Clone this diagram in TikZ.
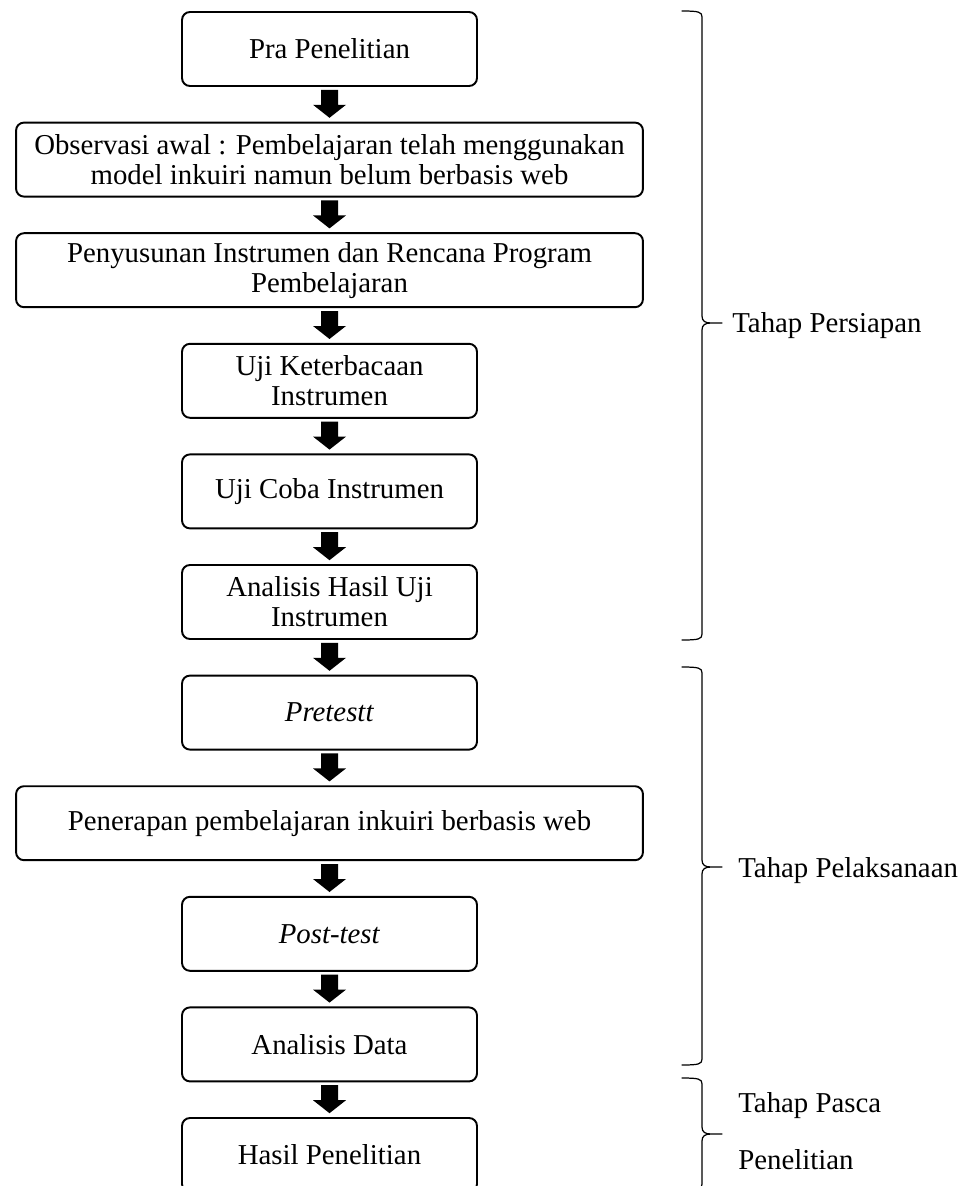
\documentclass[tikz,border=0pt]{standalone}
\usepackage{fontspec}
\setmainfont{Liberation Serif}
\usepackage{tikz}
\usetikzlibrary{calc}

% right brace: top y, tip y, bottom y
\newcommand{\kurawal}[3]{%
\draw[kurung] (682,#1) .. controls (699,#1) and (702,#1+1) .. (702,#1+6)
  -- (702,#2-7) .. controls (702,#2-2) and (705,#2) .. (711,#2) -- (722,#2)
  (711,#2) .. controls (705,#2) and (702,#2+2) .. (702,#2+7)
  -- (702,#3-6) .. controls (702,#3-1) and (699,#3) .. (682,#3);}
% block arrow between two nodes
\newcommand{\panah}[2]{%
\fill[shift={($(#1.south)!0.5!(#2.north)$)}]
  (-8.5,-14.5) -- (8.5,-14.5) -- (8.5,0.5) -- (16.5,0.5) -- (0,13.5)
  -- (-16.5,0.5) -- (-8.5,0.5) -- cycle;}

\begin{document}
\begin{tikzpicture}[x = 0.02cm,
                    y = -0.02cm,
                    font = \fontsize{16.4}{17.1}\selectfont]
% styles
\tikzset{langkah/.style={draw=black,line width=1.1pt,rounded corners=4.5pt,
           minimum height=1.48cm,minimum width=5.9cm,align=center,inner sep=0pt},
         lebar/.style={langkah,minimum width=12.54cm},
         kurung/.style={line width=0.7pt,line cap=round}}
\clip (0,0) rectangle (978,1186);

% boxes
\node[langkah] (pra)   at (329.5,49)    {Pra Penelitian};
\node[lebar]   (obs)   at (329.5,159.6) {Observasi awal : Pembelajaran telah menggunakan\\ model inkuiri namun belum berbasis web};
\node[lebar]   (susun) at (329.5,270.2) {Penyusunan Instrumen dan Rencana Program\\ Pembelajaran};
\node[langkah] (baca)  at (329.5,380.8) {Uji Keterbacaan\\ Instrumen};
\node[langkah] (coba)  at (329.5,491.4) {Uji Coba Instrumen};
\node[langkah] (anuji) at (329.5,602)   {Analisis Hasil Uji\\ Instrumen};
\node[langkah] (pre)   at (329.5,712.6) {\textit{Pretestt}};
\node[lebar]   (terap) at (329.5,823.2) {Penerapan pembelajaran inkuiri berbasis web};
\node[langkah] (post)  at (329.5,933.8) {\textit{Post-test}};
\node[langkah] (andat) at (329.5,1044.4){Analisis Data};
\node[langkah] (hasil) at (329.5,1155)  {Hasil Penelitian};

% arrows
\panah{pra}{obs}
\panah{obs}{susun}
\panah{susun}{baca}
\panah{baca}{coba}
\panah{coba}{anuji}
\panah{anuji}{pre}
\panah{pre}{terap}
\panah{terap}{post}
\panah{post}{andat}
\panah{andat}{hasil}

% braces
\kurawal{11}{323}{640}
\kurawal{667}{867}{1065}
\kurawal{1078}{1134}{1190}

% stages
\node[anchor=base west,inner sep=0pt] (siap)    at (732,332)  {Tahap Persiapan};
\node[anchor=base west,inner sep=0pt] (laksana) at (738,877)  {Tahap Pelaksanaan};
\node[anchor=base west,inner sep=0pt] (pasca)   at (738,1112) {Tahap Pasca};
\node[anchor=base west,inner sep=0pt] (pasca2)  at (738,1169) {Penelitian};
\end{tikzpicture}
\end{document}
